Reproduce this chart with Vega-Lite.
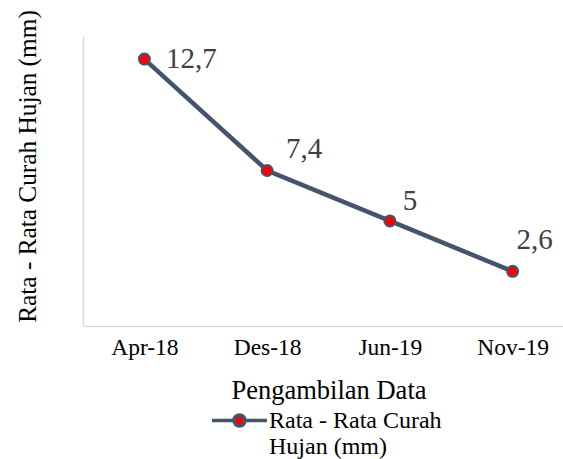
{
  "$schema": "https://vega.github.io/schema/vega-lite/v6.json",
  "width": 491,
  "height": 290,
  "autosize": "none",
  "padding": {"left": 83, "top": 36, "right": 0, "bottom": 133},
  "background": "white",
  "config": {
    "view": {"stroke": null},
    "font": "Liberation Serif"
  },
  "data": {"values": [
    {"bulan": "Apr-18", "curah": 12.7, "label": "12,7", "seri": "Rata - Rata Curah Hujan (mm)"},
    {"bulan": "Des-18", "curah": 7.4, "label": "7,4", "seri": "Rata - Rata Curah Hujan (mm)"},
    {"bulan": "Jun-19", "curah": 5, "label": "5", "seri": "Rata - Rata Curah Hujan (mm)"},
    {"bulan": "Nov-19", "curah": 2.6, "label": "2,6", "seri": "Rata - Rata Curah Hujan (mm)"}
  ]},
  "encoding": {
    "x": {
      "field": "bulan", "type": "ordinal", "sort": null,
      "scale": {"type": "point", "padding": 0.5},
      "axis": {
        "title": "Pengambilan Data", "titleFont": "Liberation Serif", "titleFontSize": 26.5,
        "titleFontWeight": "normal", "titleColor": "#000000", "titlePadding": 19,
        "labelFont": "Liberation Serif", "labelFontSize": 23.5, "labelColor": "#000000",
        "labelAngle": 0, "labelPadding": 9, "ticks": false, "grid": false,
        "domainColor": "#D9D9D9", "domainWidth": 1.5
      }
    },
    "y": {
      "field": "curah", "type": "quantitative",
      "scale": {"domain": [0, 13.8], "nice": false},
      "axis": {
        "title": "Rata - Rata Curah Hujan (mm)", "titleFont": "Liberation Serif", "titleFontSize": 25.3,
        "titleFontWeight": "normal", "titleColor": "#000000", "titlePadding": 43, "titleY": 130,
        "labels": false, "ticks": false, "grid": false,
        "domainColor": "#D9D9D9", "domainWidth": 1.5
      }
    }
  },
  "layer": [
    {
      "mark": {"type": "line", "strokeWidth": 4.5},
      "encoding": {
        "color": {
          "field": "seri", "type": "nominal",
          "scale": {"range": ["#44546A"]},
          "legend": {
            "title": null, "orient": "none", "legendX": 127, "legendY": 355, "padding": 0,
            "symbolType": "M-1,0L-0.2,0M0.2,0L1,0M-0.2,0A0.2,0.2,0,1,1,0.2,0A0.2,0.2,0,1,1,-0.2,0Z",
            "symbolSize": 3025, "symbolStrokeWidth": 3.5, "symbolFillColor": "#FF0000", "symbolStrokeColor": "#44546A",
            "labelExpr": "['Rata - Rata Curah', 'Hujan (mm)']",
            "labelFont": "Liberation Serif", "labelFontSize": 24, "labelColor": "#000000",
            "labelLimit": 0, "labelOffset": 0, "labelBaseline": "middle", "labelLineHeight": 23,
            "encode": {
              "symbols": {"update": {"fill": {"value": "#FF0000"}, "stroke": {"value": "#44546A"}, "strokeWidth": {"value": 3.5}, "opacity": {"value": 1}}}
            }
          }
        }
      }
    },
    {
      "mark": {"type": "point", "filled": true, "fill": "#FF0000", "stroke": "#44546A", "strokeWidth": 2, "size": 121, "opacity": 1}
    },
    {
      "transform": [{"filter": "datum.bulan === 'Apr-18'"}],
      "mark": {"type": "text", "align": "center", "baseline": "middle", "dx": 47, "dy": 0, "fontSize": 29, "color": "#404040", "font": "Liberation Serif"},
      "encoding": {"text": {"field": "label"}}
    },
    {
      "transform": [{"filter": "datum.bulan === 'Des-18'"}],
      "mark": {"type": "text", "align": "center", "baseline": "middle", "dx": 37, "dy": -21, "fontSize": 29, "color": "#404040", "font": "Liberation Serif"},
      "encoding": {"text": {"field": "label"}}
    },
    {
      "transform": [{"filter": "datum.bulan === 'Jun-19'"}],
      "mark": {"type": "text", "align": "center", "baseline": "middle", "dx": 20, "dy": -20, "fontSize": 29, "color": "#404040", "font": "Liberation Serif"},
      "encoding": {"text": {"field": "label"}}
    },
    {
      "transform": [{"filter": "datum.bulan === 'Nov-19'"}],
      "mark": {"type": "text", "align": "center", "baseline": "middle", "dx": 22, "dy": -31, "fontSize": 29, "color": "#404040", "font": "Liberation Serif"},
      "encoding": {"text": {"field": "label"}}
    }
  ]
}
